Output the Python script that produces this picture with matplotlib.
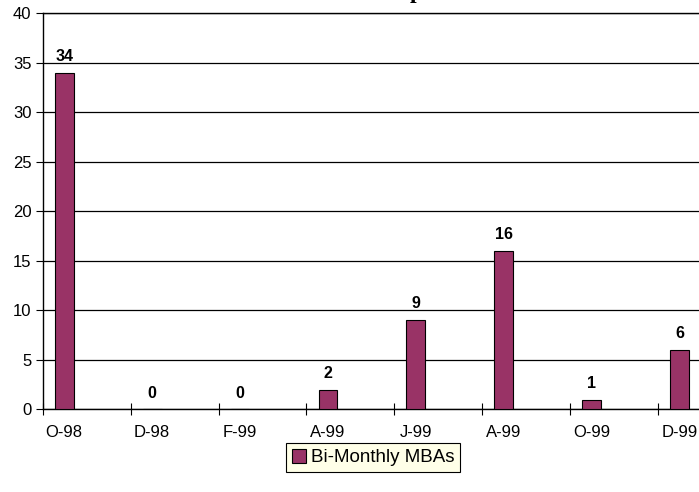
import numpy as np
import matplotlib.pyplot as plt

months = ['O-98', 'D-98', 'F-99', 'A-99', 'J-99', 'A-99', 'O-99', 'D-99']
mbas = [34, 0, 0, 2, 9, 16, 1, 6]

plt.rcParams['font.family'] = ['Liberation Sans', 'DejaVu Sans']

fig = plt.figure(figsize=(6.99, 4.92), dpi=100)
ax = fig.add_axes([0.0611, 0.1677, 1.006, 0.805])

x = np.arange(len(months)) + 0.245
ax.bar(x, mbas, width=0.213, color='#993366', edgecolor='black', linewidth=0.8,
       label='Bi-Monthly MBAs', zorder=3)

for xi, v in zip(x, mbas):
    ax.text(xi, v + 0.9, str(v), ha='center', va='bottom', fontsize=11.5,
            fontweight='bold')

##axes
ax.set_xlim(0, 8)
ax.set_ylim(0, 40)
ax.set_yticks(range(0, 41, 5))
ax.set_xticks(range(0, 9))
ax.set_xticks(x, minor=True)
ax.set_xticklabels([])
ax.set_xticklabels(months, minor=True)
ax.tick_params(axis='x', which='minor', length=0, pad=11, labelsize=12)
ax.tick_params(axis='x', which='major', length=8, direction='inout', width=0.8)
ax.tick_params(axis='y', length=5, direction='out', width=0.8, labelsize=12, pad=3)
ax.yaxis.grid(True, color='black', linewidth=0.9, zorder=0)
ax.set_axisbelow(True)
for s in ['left', 'bottom', 'top']:
    ax.spines[s].set_linewidth(1.0)
ax.spines['right'].set_visible(False)

##title, mostly off the top of the picture
fig.text(0.595, 1.004, 'p', ha='center', va='baseline', fontsize=17,
         fontweight='bold', family='Liberation Serif')

leg = fig.legend(loc='center', bbox_to_anchor=(0.534, 0.07), fontsize=13.5,
                 frameon=True, fancybox=False, edgecolor='black',
                 facecolor='#FFFFE8', framealpha=1, handlelength=0.75,
                 handleheight=0.75, handletextpad=0.3, borderpad=0.3)
leg.get_frame().set_linewidth(0.8)

fig.savefig('out.png', dpi=100)
